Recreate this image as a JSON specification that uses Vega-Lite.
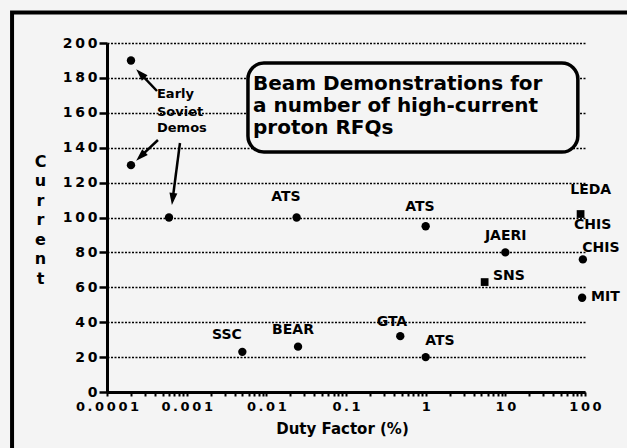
{
  "$schema": "https://vega.github.io/schema/vega-lite/v6.json",
  "width": 478,
  "height": 349,
  "autosize": "none",
  "padding": {"left": 107, "top": 43, "right": 42, "bottom": 56},
  "background": "#f4f4f4",
  "config": {"font": "DejaVu Sans", "view": {"stroke": null}},
  "datasets": {
    "frame": [{"x": 0.00000643, "x2": 650, "y": 217.5, "y2": -40}],
    "box": [{"x": 0.00588, "x2": 81.3, "y": 188.5, "y2": 137.5}],
    "points": [
      {"name": "Soviet", "x": 0.0002, "y": 190},
      {"name": "Soviet", "x": 0.0002, "y": 130},
      {"name": "Soviet", "x": 0.0006, "y": 100},
      {"name": "ATS", "x": 0.024, "y": 100},
      {"name": "ATS", "x": 1, "y": 95},
      {"name": "JAERI", "x": 10, "y": 80},
      {"name": "SNS", "x": 5.5, "y": 63},
      {"name": "LEDA", "x": 88, "y": 102},
      {"name": "CHIS", "x": 94, "y": 76},
      {"name": "MIT", "x": 92, "y": 54},
      {"name": "GTA", "x": 0.48, "y": 32},
      {"name": "ATS", "x": 1, "y": 20},
      {"name": "SSC", "x": 0.005, "y": 23},
      {"name": "BEAR", "x": 0.025, "y": 26}
    ],
    "labels": [
      {"text": "ATS", "x": 0.0176, "y": 111.7},
      {"text": "ATS", "x": 0.845, "y": 106},
      {"text": "JAERI", "x": 10.1, "y": 89.4},
      {"text": "SNS", "x": 11.1, "y": 66.5},
      {"text": "LEDA", "x": 118, "y": 115.8},
      {"text": "CHIS", "x": 125, "y": 95.7},
      {"text": "CHIS", "x": 158, "y": 82.5},
      {"text": "MIT", "x": 180, "y": 54.4},
      {"text": "GTA", "x": 0.377, "y": 40},
      {"text": "ATS", "x": 1.51, "y": 29.2},
      {"text": "SSC", "x": 0.0032, "y": 32.7},
      {"text": "BEAR", "x": 0.0216, "y": 35.5}
    ],
    "soviet": [
      {"text": "Early", "x": 0.000424, "y": 170.8},
      {"text": "Soviet", "x": 0.000424, "y": 160.5},
      {"text": "Demos", "x": 0.000424, "y": 151.3}
    ],
    "boxtext": [
      {"text": "Beam Demonstrations for", "x": 0.0068, "y": 173.1},
      {"text": "a number of high-current", "x": 0.0068, "y": 160.5},
      {"text": "proton RFQs", "x": 0.0068, "y": 147.9}
    ],
    "arrows": [
      {"id": 1, "x": 0.000424, "y": 172.5, "x2": 0.000263, "y2": 182.5},
      {"id": 2, "x": 0.000436, "y": 144.4, "x2": 0.000264, "y2": 135},
      {"id": 3, "x": 0.000824, "y": 142.7, "x2": 0.000667, "y2": 110.6}
    ],
    "heads": [
      {"id": 1, "x": 0.000263, "y": 182.5},
      {"id": 2, "x": 0.000264, "y": 135},
      {"id": 3, "x": 0.000667, "y": 110.6}
    ]
  },
  "encoding": {
    "x": {
      "field": "x",
      "type": "quantitative",
      "scale": {"type": "log", "domain": [0.0001, 100], "nice": false},
      "axis": {
        "title": "Duty Factor (%)",
        "grid": false,
        "values": [0.0001, 0.0002, 0.0003, 0.0004, 0.0005, 0.0006, 0.0007, 0.0008, 0.0009, 0.001, 0.002, 0.003, 0.004, 0.005, 0.006, 0.007, 0.008, 0.009, 0.01, 0.02, 0.03, 0.04, 0.05, 0.06, 0.07, 0.08, 0.09, 0.1, 0.2, 0.3, 0.4, 0.5, 0.6, 0.7, 0.8, 0.9, 1, 2, 3, 4, 5, 6, 7, 8, 9, 10, 20, 30, 40, 50, 60, 70, 80, 90, 100],
        "domainColor": "black",
        "domainWidth": 3,
        "tickColor": "black",
        "tickWidth": 2,
        "tickSize": 4,
        "labelExpr": "abs(log(datum.value)/LN10 - round(log(datum.value)/LN10)) < 0.000001 ? join(split(format(datum.value, '~g'), ''), '\u2009') : ''",
        "labelOverlap": false,
        "labelFlush": false,
        "labelFontWeight": "bold",
        "labelFontSize": 13,
        "labelColor": "black",
        "labelPadding": 4,
        "titleFontSize": 15,
        "titleFontWeight": "bold",
        "titleColor": "black",
        "titleX": 235,
        "titleY": 36,
        "titleBaseline": "middle"
      }
    },
    "y": {
      "field": "y",
      "type": "quantitative",
      "scale": {"domain": [0, 200], "nice": false, "zero": false},
      "axis": {
        "values": [0, 20, 40, 60, 80, 100, 120, 140, 160, 180, 200],
        "title": ["C", "u", "r", "r", "e", "n", "t"],
        "titleAngle": 0,
        "titleX": -67,
        "titleY": 110,
        "titleAlign": "center",
        "titleBaseline": "top",
        "titleLineHeight": 19.5,
        "titleFontSize": 16,
        "titleFontWeight": "bold",
        "titleColor": "black",
        "grid": true,
        "gridColor": "black",
        "gridDash": [2, 1.5],
        "gridWidth": 1.4,
        "domainColor": "black",
        "domainWidth": 3,
        "tickColor": "black",
        "tickWidth": 2.5,
        "tickSize": 8,
        "labelPadding": 2,
        "labelFontSize": 14,
        "labelFontWeight": "bold",
        "labelColor": "black",
        "labelExpr": "join(split(datum.label, ''), '\u2009')"
      }
    }
  },
  "layer": [
    {
      "data": {"name": "frame"},
      "mark": {"type": "rect", "fill": null, "fillOpacity": 0, "stroke": "black", "strokeWidth": 4},
      "encoding": {"x2": {"field": "x2"}, "y2": {"field": "y2"}}
    },
    {
      "data": {"name": "box"},
      "mark": {"type": "rect", "fill": "#f4f4f4", "stroke": "black", "strokeWidth": 3.5, "cornerRadius": 16},
      "encoding": {"x2": {"field": "x2"}, "y2": {"field": "y2"}}
    },
    {
      "data": {"name": "points"},
      "transform": [{"filter": "datum.name != 'SNS' && datum.name != 'LEDA'"}],
      "mark": {"type": "point", "filled": true, "shape": "circle", "size": 70, "color": "black", "opacity": 1}
    },
    {
      "data": {"name": "points"},
      "transform": [{"filter": "datum.name == 'SNS' || datum.name == 'LEDA'"}],
      "mark": {"type": "point", "filled": true, "shape": "square", "size": 60, "color": "black", "opacity": 1}
    },
    {
      "data": {"name": "arrows"},
      "mark": {"type": "rule", "color": "black", "strokeWidth": 2.5},
      "encoding": {"x2": {"field": "x2"}, "y2": {"field": "y2"}}
    },
    {
      "data": {"name": "heads"},
      "transform": [{"filter": "datum.id == 1"}],
      "mark": {"type": "point", "filled": true, "shape": "M0,-1L0.65,1L-0.65,1Z", "size": 150, "angle": 316, "color": "black", "opacity": 1}
    },
    {
      "data": {"name": "heads"},
      "transform": [{"filter": "datum.id == 2"}],
      "mark": {"type": "point", "filled": true, "shape": "M0,-1L0.65,1L-0.65,1Z", "size": 150, "angle": 226, "color": "black", "opacity": 1}
    },
    {
      "data": {"name": "heads"},
      "transform": [{"filter": "datum.id == 3"}],
      "mark": {"type": "point", "filled": true, "shape": "M0,-1L0.65,1L-0.65,1Z", "size": 150, "angle": 187, "color": "black", "opacity": 1}
    },
    {
      "data": {"name": "labels"},
      "mark": {"type": "text", "align": "center", "baseline": "middle", "fontSize": 14, "fontWeight": "bold", "color": "black"},
      "encoding": {"text": {"field": "text"}}
    },
    {
      "data": {"name": "soviet"},
      "mark": {"type": "text", "align": "left", "baseline": "middle", "fontSize": 13, "fontWeight": "bold", "color": "black"},
      "encoding": {"text": {"field": "text"}}
    },
    {
      "data": {"name": "boxtext"},
      "mark": {"type": "text", "align": "left", "baseline": "alphabetic", "fontSize": 20, "fontWeight": "bold", "color": "black"},
      "encoding": {"text": {"field": "text"}}
    }
  ]
}
